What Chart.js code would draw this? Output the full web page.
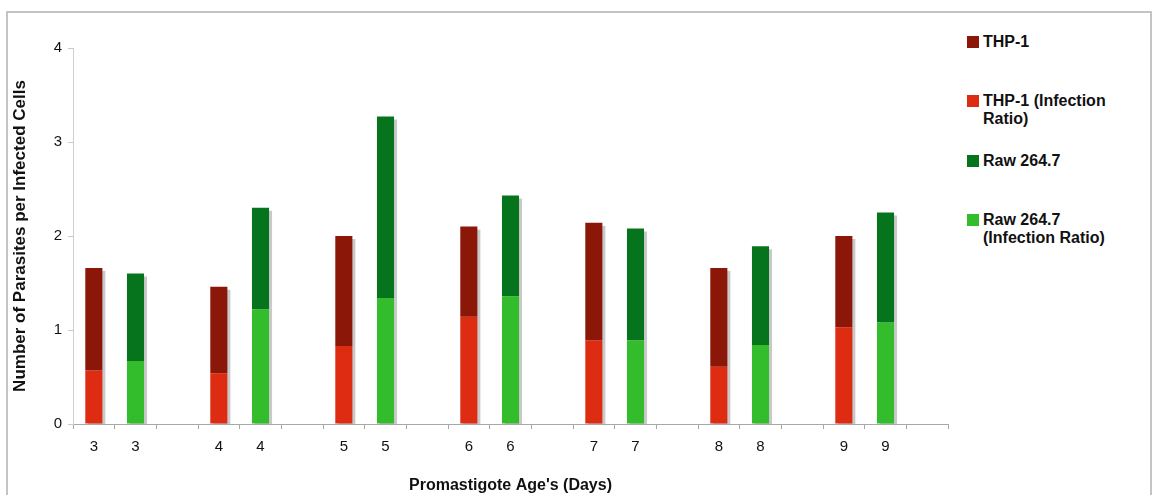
<!DOCTYPE html>
<html>
<head>
<meta charset="utf-8">
<script src="https://cdn.jsdelivr.net/npm/chart.js@4"></script>
<style>
  html, body { margin: 0; padding: 0; background: #fff; }
  body { width: 1156px; height: 495px; position: relative; overflow: hidden; font-family: "Liberation Sans", Arial, sans-serif; }
  #frame { position: absolute; left: 6px; top: 11px; width: 1146px; height: 520px; border: 2px solid #c4c4c4; box-sizing: border-box; }
  #wrap { position: absolute; left: 0; top: 0; width: 960px; height: 495px; }
  #legend { position: absolute; left: 967px; top: 0; width: 180px; }
  .lg-item { position: absolute; left: 0; display: flex; align-items: flex-start; }
  .lg-box { width: 12px; height: 12px; margin-top: 3px; margin-right: 4px; flex: none; }
  .lg-text { font-weight: bold; font-size: 16px; line-height: 18px; color: #111; width: 140px; }
</style>
</head>
<body>
<div id="frame"></div>
<div id="wrap"><canvas id="ageChart"></canvas></div>
<div id="legend"></div>
<script>
// x slots: pairs of THP-1 / Raw 264.7 bars per day, with an empty slot after each pair
const ageLabels = ['3', '3', '', '4', '4', '', '5', '5', '', '6', '6', '', '7', '7', '', '8', '8', '', '9', '9', ''];

// infection ratio (lower part) and remaining parasites per infected cell (upper part)
const thpRatio = [0.57, null, null, 0.54, null, null, 0.83, null, null, 1.14, null, null, 0.89, null, null, 0.61, null, null, 1.03, null, null];
const thpUpper = [1.09, null, null, 0.92, null, null, 1.17, null, null, 0.96, null, null, 1.25, null, null, 1.05, null, null, 0.97, null, null];
const rawRatio = [null, 0.67, null, null, 1.22, null, null, 1.34, null, null, 1.36, null, null, 0.89, null, null, 0.84, null, null, 1.08, null];
const rawUpper = [null, 0.93, null, null, 1.08, null, null, 1.93, null, null, 1.07, null, null, 1.19, null, null, 1.05, null, null, 1.17, null];

const yTicks = [0, 1, 2, 3, 4];

const legendOrder = ['THP-1', 'THP-1 (Infection Ratio)', 'Raw 264.7', 'Raw 264.7 (Infection Ratio)'];

const FONT = '"Liberation Sans", Arial, sans-serif';

// grey drop shadow behind each whole stacked bar
const barShadow = {
  id: 'barShadow',
  beforeDatasetsDraw(chart) {
    const ctx = chart.ctx;
    const base = chart.scales.y.getPixelForValue(0);
    ctx.save();
    ctx.fillStyle = '#c9c9c9';
    ageLabels.forEach((_, i) => {
      let top = null, x = null, w = null;
      chart.data.datasets.forEach((ds, d) => {
        const el = chart.getDatasetMeta(d).data[i];
        if (ds.data[i] == null || !el) return;
        if (top === null || el.y < top) { top = el.y; x = el.x; w = el.width; }
      });
      if (top === null) return;
      ctx.fillRect(x - w / 2 + 3, top + 3, w, base - top - 3);
    });
    ctx.restore();
  }
};

const chart = new Chart(document.getElementById('ageChart').getContext('2d'), {
  type: 'bar',
  data: {
    labels: ageLabels,
    datasets: [
      { label: 'THP-1 (Infection Ratio)', data: thpRatio, backgroundColor: '#dd2c12' },
      { label: 'THP-1', data: thpUpper, backgroundColor: '#8b1709' },
      { label: 'Raw 264.7 (Infection Ratio)', data: rawRatio, backgroundColor: '#33bd2c' },
      { label: 'Raw 264.7', data: rawUpper, backgroundColor: '#06741c' }
    ]
  },
  options: {
    responsive: true,
    maintainAspectRatio: false,
    animation: false,
    layout: { padding: { top: 48, right: 12, left: 0, bottom: 0 } },
    datasets: { bar: { barPercentage: 0.41, categoryPercentage: 1.0, borderWidth: 0 } },
    scales: {
      x: {
        stacked: true,
        afterFit: s => { s.height = 71; },
        grid: { offset: true, drawOnChartArea: false, tickLength: 5, color: '#a8a8a8' },
        border: { color: '#a8a8a8' },
        ticks: { color: '#111', font: { family: FONT, size: 15 }, padding: 9, maxRotation: 0, autoSkip: false },
        title: { display: true, text: "Promastigote Age's (Days)", color: '#111', font: { family: FONT, size: 16, weight: 'bold' }, padding: { top: 10, bottom: 0 } }
      },
      y: {
        stacked: true,
        min: 0,
        max: 4,
        afterFit: s => { s.width = 73; },
        afterBuildTicks: s => { s.ticks = yTicks.map(v => ({ value: v })); },
        grid: { drawOnChartArea: false, tickLength: 5, color: '#c8c8c8' },
        border: { color: '#d0d0d0' },
        ticks: { color: '#111', font: { family: FONT, size: 15 }, padding: 6 },
        title: { display: true, text: 'Number of Parasites per Infected Cells', color: '#111', font: { family: FONT, size: 17, weight: 'bold' }, padding: { top: 10, bottom: 0 } }
      }
    },
    plugins: {
      legend: { display: false },
      tooltip: { enabled: false }
    }
  },
  plugins: [barShadow]
});

// legend on the right, listed in the same order as the key of the figure
const legendEl = document.getElementById('legend');
legendOrder.forEach((name, i) => {
  const ds = chart.data.datasets.find(d => d.label === name);
  const item = document.createElement('div');
  item.className = 'lg-item';
  item.style.top = (33 + i * 59.3) + 'px';
  item.innerHTML = `<div class="lg-box" style="background:${ds.backgroundColor}"></div><div class="lg-text">${ds.label}</div>`;
  legendEl.appendChild(item);
});
</script>
</body>
</html>
